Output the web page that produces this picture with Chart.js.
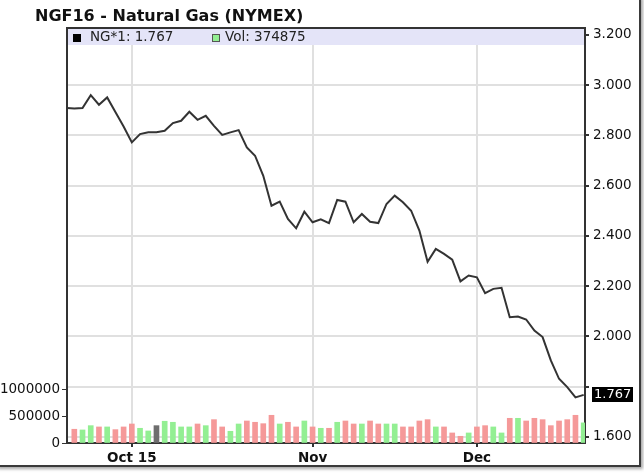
<!DOCTYPE html>
<html><head><meta charset="utf-8">
<script src="https://cdn.jsdelivr.net/npm/chart.js@4"></script>
<style>
html,body{margin:0;padding:0;background:#fff;}
#wrap{position:relative;width:644px;height:473px;overflow:hidden;}
#frame{position:absolute;left:-4px;top:-4px;width:643px;height:469px;border-right:2px solid #3a3a3a;border-bottom:2px solid #3a3a3a;box-shadow:2px 2px 3px rgba(0,0,0,0.35);}
canvas{position:absolute;left:0;top:0;}
</style></head>
<body><div id="wrap"><div id="frame"></div><canvas id="c" width="644" height="473"></canvas></div>
<script>
const chartTitle = 'NGF16 - Natural Gas (NYMEX)';
const priceSeriesName = 'NG*1';
const volumeSeriesName = 'Vol';

// closing prices, first value is the session before the first volume bar
const prices = [
  2.909, 2.907, 2.909, 2.960, 2.922, 2.951, 2.893, 2.835, 2.772, 2.805,
  2.812, 2.812, 2.818, 2.849, 2.858, 2.894, 2.862, 2.878, 2.838, 2.802,
  2.812, 2.821, 2.752, 2.719, 2.639, 2.520, 2.536, 2.467, 2.430, 2.496,
  2.454, 2.466, 2.451, 2.543, 2.536, 2.454, 2.487, 2.456, 2.451, 2.527,
  2.560, 2.534, 2.500, 2.421, 2.297, 2.348, 2.328, 2.305, 2.219, 2.242,
  2.235, 2.172, 2.189, 2.193, 2.076, 2.079, 2.067, 2.023, 1.997, 1.904,
  1.831, 1.798, 1.757, 1.767
];
// volume per session (sessions 1..63)
const volumes = [
  256000, 243000, 323000, 299000, 299000, 249000, 299000, 354000, 274000, 224000,
  323000, 405000, 386000, 299000, 299000, 354000, 323000, 435000, 299000, 218000,
  354000, 410000, 386000, 360000, 516000, 354000, 386000, 299000, 410000, 299000,
  274000, 274000, 386000, 410000, 354000, 354000, 410000, 354000, 354000, 354000,
  299000, 299000, 410000, 435000, 299000, 299000, 187000, 125000, 187000, 299000,
  323000, 299000, 187000, 460000, 460000, 410000, 460000, 435000, 323000, 410000,
  435000, 516000, 374875
];
const priceTicks = [1.6, 1.8, 2.0, 2.2, 2.4, 2.6, 2.8, 3.0, 3.2];
const volumeTicks = [0, 500000, 1000000];
const monthTickIndex = [8, 30, 50];
const monthTickLabels = ['Oct 15', 'Nov', 'Dec'];

const FONT = 'DejaVu Sans';
const UP = '#93ef93', DOWN = '#f59999', FLAT = '#6e6e6e';
const barColors = volumes.map((v, i) => {
  const d = prices[i + 1] - prices[i];
  return d > 0 ? UP : (d < 0 ? DOWN : FLAT);
});
const lastPrice = prices[prices.length - 1];
const lastVol = volumes[volumes.length - 1];

const overlay = {
  id: 'overlay',
  afterDraw(chart) {
    const {ctx, chartArea: a} = chart;
    const yP = chart.scales.yPrice;
    ctx.save();
    // legend band
    ctx.fillStyle = '#e4e4f8';
    ctx.fillRect(a.left + 1, a.top, a.right - a.left - 2, 17);
    ctx.strokeStyle = '#333';
    ctx.lineWidth = 2;
    ctx.beginPath(); ctx.moveTo(a.left - 1, a.top); ctx.lineTo(a.right + 1, a.top); ctx.stroke();
    // legend entries
    ctx.fillStyle = '#000';
    ctx.fillRect(a.left + 6, a.top + 6, 8, 8);
    ctx.font = '13.5px "' + FONT + '"';
    ctx.textBaseline = 'middle';
    ctx.textAlign = 'left';
    ctx.fillStyle = '#222';
    ctx.fillText(priceSeriesName + ': ' + lastPrice.toFixed(3), a.left + 23, a.top + 9.5);
    ctx.fillStyle = UP;
    ctx.fillRect(a.left + 145, a.top + 6, 8, 8);
    ctx.strokeStyle = '#555'; ctx.lineWidth = 1;
    ctx.strokeRect(a.left + 145.5, a.top + 6.5, 7, 7);
    ctx.fillStyle = '#222';
    ctx.fillText(volumeSeriesName + ': ' + lastVol, a.left + 158, a.top + 9.5);
    // current price box
    const y = Math.round(yP.getPixelForValue(lastPrice));
    ctx.fillStyle = '#000';
    ctx.fillRect(yP.left + 7, y - 8, 41, 15);
    ctx.fillStyle = '#fff';
    ctx.font = '13px "' + FONT + '"';
    ctx.fillText(lastPrice.toFixed(3), yP.left + 9, y - 0.5);
    // title
    ctx.fillStyle = '#111';
    ctx.font = 'bold 16px "' + FONT + '"';
    ctx.fillText(chartTitle, 35, 17);
    ctx.restore();
  }
};

new Chart(document.getElementById('c'), {
  type: 'bar',
  data: {
    datasets: [
      {
        type: 'line', label: priceSeriesName,
        data: prices.map((p, i) => ({x: i, y: p})),
        yAxisID: 'yPrice', xAxisID: 'x',
        borderColor: '#333', borderWidth: 2, pointRadius: 0, tension: 0,
        order: 0, clip: 0
      },
      {
        type: 'bar', label: volumeSeriesName,
        data: volumes.map((v, i) => ({x: i + 1, y: v})),
        yAxisID: 'yVol', xAxisID: 'x',
        backgroundColor: barColors, borderWidth: 0, barThickness: 5,
        order: 1, clip: 0
      }
    ]
  },
  options: {
    responsive: false,
    animation: false,
    devicePixelRatio: 1,
    layout: {padding: {top: 28, left: 0, right: 0, bottom: 0}},
    plugins: {legend: {display: false}, tooltip: {enabled: false}, title: {display: false}},
    scales: {
      x: {
        type: 'linear', position: 'bottom', min: 0.11, max: 63.16, offset: false, bounds: 'data',
        afterBuildTicks: s => { s.ticks = monthTickIndex.map(v => ({value: v})); },
        afterFit: s => { s.height = 30; },
        ticks: {
          callback: v => monthTickLabels[monthTickIndex.indexOf(v)],
          font: {family: FONT, size: 13.5, weight: 'bold'}, color: '#111',
          padding: 3, maxRotation: 0, autoSkip: false
        },
        grid: {offset: false, color: '#e0e0e0', lineWidth: 2, tickColor: '#333', tickLength: 4},
        border: {color: '#333', width: 2}
      },
      yVol: {
        type: 'linear', position: 'left', min: 0, max: 7728000,
        afterBuildTicks: s => { s.ticks = volumeTicks.map(v => ({value: v})); },
        afterFit: s => { s.width = 67; },
        ticks: {font: {family: FONT, size: 13.5}, color: '#111', padding: 2, callback: v => String(v)},
        grid: {drawOnChartArea: false, tickColor: '#333', tickLength: 5, lineWidth: 1},
        border: {color: '#333', width: 2}
      },
      yPrice: {
        type: 'linear', position: 'right', min: 1.5754, max: 3.2274,
        afterBuildTicks: s => { s.ticks = priceTicks.map(v => ({value: v})); },
        afterFit: s => { s.width = 59; },
        ticks: {
          font: {family: FONT, size: 13.5}, color: '#111', padding: 4,
          callback: v => (Math.abs(v - lastPrice) < 0.06 ? '' : v.toFixed(3))
        },
        grid: {color: '#e0e0e0', lineWidth: 2, tickColor: '#333', tickLength: 4},
        border: {color: '#333', width: 2}
      }
    }
  },
  plugins: [overlay]
});
</script>
</body></html>
